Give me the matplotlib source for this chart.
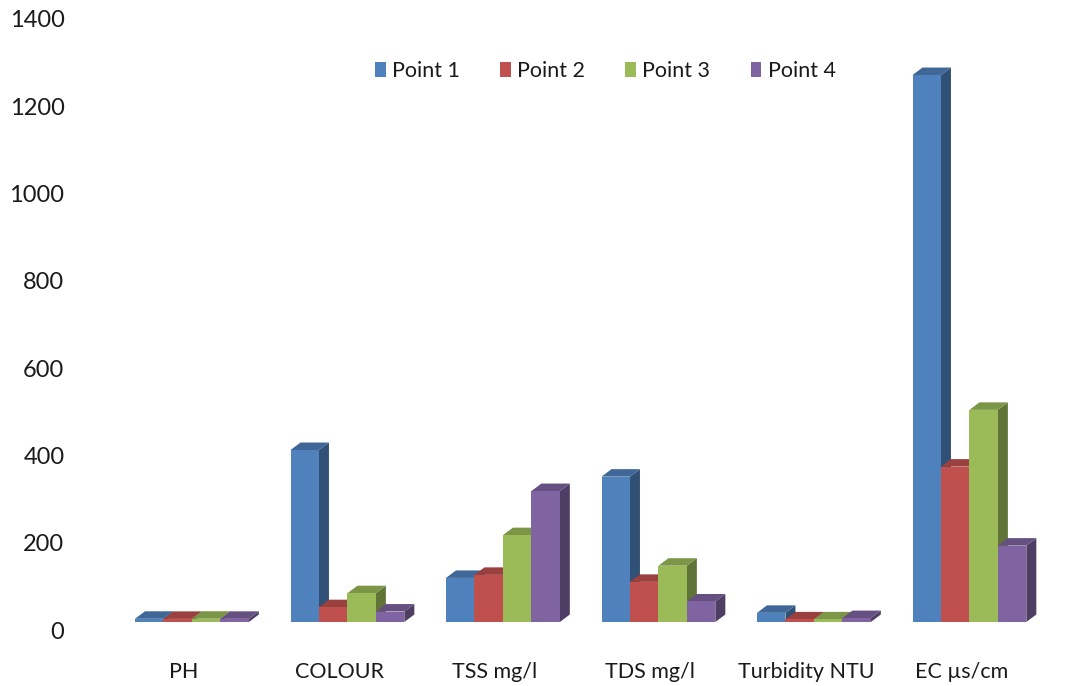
import matplotlib
matplotlib.use("Agg")
import matplotlib.pyplot as plt
from matplotlib.patches import Polygon, Patch
from matplotlib.transforms import ScaledTranslation
import numpy as np

# Water quality parameters measured at four sampling points
categories = ["PH", "COLOUR", "TSS mg/l", "TDS mg/l", "Turbidity NTU", "EC µs/cm"]
series_names = ["Point 1", "Point 2", "Point 3", "Point 4"]
point1 = [7.4, 394, 101, 333, 21, 1253]
point2 = [7.2, 34, 108, 92, 6, 356]
point3 = [7.5, 66, 199, 129, 6, 486]
point4 = [7.3, 24, 300, 47, 9, 175]
y_ticks = [0, 200, 400, 600, 800, 1000, 1200, 1400]

series = [point1, point2, point3, point4]
front_colors = ["#4F81BD", "#C0504D", "#9BBB59", "#8064A2"]

plt.rcParams["font.family"] = ["Lato", "DejaVu Sans"]
TEXT = "#1a1a1a"
FS = 15.5
FS_Y = 17

W, H = 1082, 686
fig = plt.figure(figsize=(W / 100, H / 100), dpi=100)
ax = fig.add_axes([70 / W, 1 - 640 / H, (W - 70) / W, (640 - 10) / H])
ax.set_xlim(-0.784, 5.724)
ax.set_ylim(-41.2, 1402)
for s in ax.spines.values():
    s.set_visible(False)


def shade(hex_color, f):
    rgb = np.array(matplotlib.colors.to_rgb(hex_color))
    return tuple(rgb * f)


# depth of the pseudo-3D columns, given in pixels and converted to data units
bbox = ax.get_window_extent()
px_x = (ax.get_xlim()[1] - ax.get_xlim()[0]) / bbox.width
px_y = (ax.get_ylim()[1] - ax.get_ylim()[0]) / bbox.height
dx, dy = 10 * px_x, 7.5 * px_y

bar_w = 0.183
x = np.arange(len(categories))
for k, (vals, col) in enumerate(zip(series, front_colors)):
    top_c = shade(col, 0.80)
    side_c = shade(col, 0.62)
    for i, v in zip(x, vals):
        x0 = i + (k - 2) * bar_w
        x1 = x0 + bar_w
        ax.add_patch(Polygon([(x1, 0), (x1 + dx, dy), (x1 + dx, v + dy), (x1, v)],
                             closed=True, facecolor=side_c, edgecolor="none"))
        ax.add_patch(Polygon([(x0, v), (x0 + dx, v + dy), (x1 + dx, v + dy), (x1, v)],
                             closed=True, facecolor=top_c, edgecolor="none"))
        ax.bar(x0, v, width=bar_w, align="edge", color=col, edgecolor="none")

ax.set_yticks(y_ticks)
ax.set_yticklabels([str(t) for t in y_ticks])
ax.set_xticks(x)
ax.set_xticklabels(categories)
ax.tick_params(axis="both", length=0, labelcolor=TEXT)
ax.tick_params(axis="x", labelsize=FS, pad=16)
ax.tick_params(axis="y", labelsize=FS_Y, pad=4)
for lab in ax.get_yticklabels():
    lab.set_transform(lab.get_transform() + ScaledTranslation(0, -8 / 100, fig.dpi_scale_trans))
for lab in ax.get_xticklabels():
    lab.set_transform(lab.get_transform() + ScaledTranslation(-8 / 100, 0, fig.dpi_scale_trans))

handles = [Patch(facecolor=c, edgecolor="none", label=n) for c, n in zip(front_colors, series_names)]
ax.legend(handles=handles, ncol=4, loc="center left",
          bbox_to_anchor=(375 / W, 1 - 71 / H), bbox_transform=fig.transFigure,
          frameon=False, fontsize=FS, labelcolor=TEXT,
          handlelength=0.5, handleheight=0.75, handletextpad=0.3,
          columnspacing=1.86, borderpad=0, borderaxespad=0)

fig.savefig("out.png", dpi=100)
